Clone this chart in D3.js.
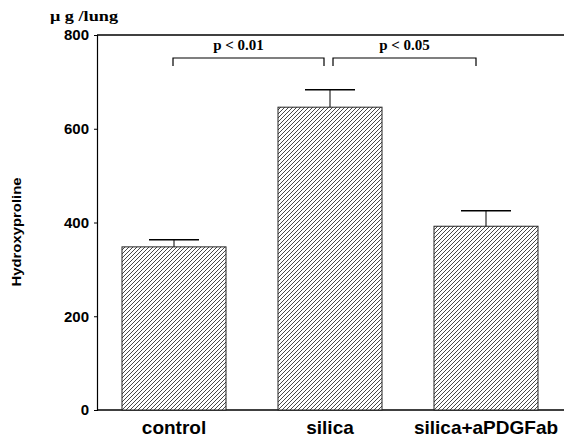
<!DOCTYPE html>
<html><head><meta charset="utf-8">
<script src="https://cdn.jsdelivr.net/npm/d3@7"></script>
<style>body{margin:0;background:#fff}svg{display:block}</style>
</head><body>
<script>
const categories = ["control", "silica", "silica+aPDGFab"];
const means = [348, 646, 392];
const errors = [15, 37, 33];
const yTicks = [0, 200, 400, 600, 800];
const comparisons = [
  {from: 0, to: 1, label: "p < 0.01"},
  {from: 1, to: 2, label: "p < 0.05"}
];

const W = 564, H = 441;
const svg = d3.select("body").append("svg").attr("width", W).attr("height", H);

const defs = svg.append("defs");
const pat = defs.append("pattern").attr("id", "hatch").attr("patternUnits", "userSpaceOnUse")
  .attr("width", 4).attr("height", 4);
pat.append("rect").attr("width", 4).attr("height", 4).attr("fill", "#fff");
pat.append("path").attr("d", "M-1,1 l2,-2 M0,4 l4,-4 M3,5 l2,-2")
  .attr("stroke", "#333").attr("stroke-width", 0.9);

const x0 = 97, x1 = 564, yTop = 35, yBot = 410;
const y = d3.scaleLinear().domain([0, 800]).range([yBot, yTop]);
const x = d3.scaleBand().domain(categories).range([96, 564]).paddingInner(1 / 3).paddingOuter(1 / 6);

// axes
const yAxis = svg.append("g").attr("transform", `translate(${x0},0)`)
  .call(d3.axisLeft(y).tickValues(yTicks).tickSize(3).tickPadding(5).tickFormat(d3.format("d")));
yAxis.select(".domain").attr("stroke", "#000").attr("stroke-width", 1.2);
yAxis.selectAll("text").attr("font-family", "Liberation Sans, Arial, sans-serif")
  .attr("font-weight", "bold").attr("font-size", 15).attr("fill", "#000");

// top frame line
svg.append("line").attr("x1", x0).attr("x2", x1).attr("y1", y(800)).attr("y2", y(800))
  .attr("stroke", "#000").attr("stroke-width", 1.5);
// bottom axis
const xAxis = svg.append("g").attr("transform", `translate(0,${yBot})`)
  .call(d3.axisBottom(x).tickSize(0).tickPadding(11));
xAxis.select(".domain").attr("d", `M${x0},0H${x1}`).attr("stroke", "#000").attr("stroke-width", 1.5);
xAxis.selectAll("text").attr("font-family", "Liberation Sans, Arial, sans-serif")
  .attr("font-weight", "bold").attr("font-size", 19).attr("fill", "#000");

// bars
svg.selectAll(".bar").data(categories).join("rect").attr("class", "bar")
  .attr("x", d => x(d)).attr("width", x.bandwidth())
  .attr("y", (d, i) => y(means[i])).attr("height", (d, i) => y(0) - y(means[i]))
  .attr("fill", "url(#hatch)").attr("stroke", "#222").attr("stroke-width", 1);

// error bars
const cx = d => x(d) + x.bandwidth() / 2;
svg.selectAll(".ev").data(categories).join("line").attr("class", "ev")
  .attr("x1", cx).attr("x2", cx)
  .attr("y1", (d, i) => y(means[i])).attr("y2", (d, i) => y(means[i] + errors[i]))
  .attr("stroke", "#000").attr("stroke-width", 1);
svg.selectAll(".eh").data(categories).join("line").attr("class", "eh")
  .attr("x1", d => cx(d) - 25).attr("x2", d => cx(d) + 25)
  .attr("y1", (d, i) => y(means[i] + errors[i])).attr("y2", (d, i) => y(means[i] + errors[i]))
  .attr("stroke", "#000").attr("stroke-width", 1.5);

// significance brackets
const by = 58;
comparisons.forEach((c, k) => {
  const xa = cx(categories[c.from]) + (k === 1 ? 3 : -1);
  const xb = cx(categories[c.to]) - (k === 0 ? 6 : 10);
  svg.append("path").attr("d", `M${xa},${by + 8}V${by}H${xb}V${by + 8}`)
    .attr("fill", "none").attr("stroke", "#000").attr("stroke-width", 1.2);
  svg.append("text").attr("x", (xa + xb) / 2 - (k === 0 ? 10 : 0)).attr("y", by - 8).attr("text-anchor", "middle")
    .attr("font-family", "Liberation Serif, Times New Roman, serif").attr("font-weight", "bold")
    .attr("font-size", 15).text(c.label);
});

// y label
svg.append("text").attr("transform", `translate(21,232) rotate(-90)`)
  .attr("text-anchor", "middle").attr("font-family", "Liberation Sans, Arial, sans-serif")
  .attr("font-weight", "bold").attr("font-size", 12)
  .attr("textLength", 109).attr("lengthAdjust", "spacingAndGlyphs").text("Hydroxyproline");
// unit
svg.append("text").attr("x", 50).attr("y", 21)
  .attr("font-family", "Liberation Serif, Times New Roman, serif").attr("font-weight", "bold")
  .attr("font-size", 15).attr("textLength", 68).attr("lengthAdjust", "spacingAndGlyphs").text("μ g /lung");
</script>
</body></html>
